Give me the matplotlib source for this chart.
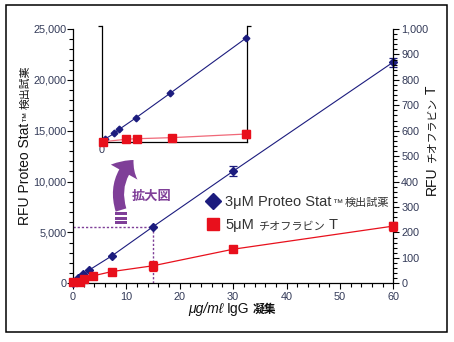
import matplotlib
matplotlib.use("Agg")
import matplotlib.pyplot as plt
from matplotlib.ticker import MultipleLocator, FuncFormatter
from matplotlib.transforms import IdentityTransform
from matplotlib.patches import Rectangle, FancyArrowPatch
from matplotlib.lines import Line2D

# ---------------- data ----------------
blue_x = [0, 0.9, 1.9, 3.05, 7.35, 15, 30, 60]
blue_y = [60, 490, 890, 1310, 2720, 5570, 11020, 21750]
blue_err = [0, 0, 0, 0, 0, 0, 480, 440]

red_x = [0, 1.25, 2.0, 3.7, 7.25, 15, 30, 60]
red_y = [4, 6, 16, 29, 46, 69, 134, 225]
red_err = [0, 0, 0, 0, 0, 20, 0, 18]

inset_blue_x = [0.34, 1.31, 1.82, 3.52, 7.07, 14.9]
inset_blue_y = [28, 77, 112, 209, 421, 894]
inset_red_x = [0.17, 2.5, 3.68, 7.24, 14.9]
inset_red_y = [5, 26, 31, 40, 71]
inset_red_err = [0, 0, 0, 0, 37]

legend_labels = [["3\u03bcM Proteo Stat", "\u2122", "検出試薬"],
                 ["5\u03bcM", "チオフラビン", "T"]]
left_label = ["RFU Proteo Stat", "\u2122", "検出試薬"]
right_label = ["RFU", "チオフラビン", "T"]
x_label = ["\u03bcg/m\u2113", "IgG", "凝集"]
zoom_text = "拡大図"

# ---------------- style ----------------
FAM = ["Liberation Sans", "DejaVu Sans", "Noto Sans CJK JP"]
JFAM = ["Noto Sans CJK JP", "DejaVu Sans"]
plt.rcParams["font.family"] = FAM
NAVY = "#1c1c7e"
RED = "#e8101c"
PURPLE = "#7f3f98"
TICKC = "#333a58"

W, H = 454, 342
fig = plt.figure(figsize=(W / 100, H / 100), dpi=100)

def fx(px):
    return px / W

def fy(py):
    return 1 - py / H

# main axes
ax = fig.add_axes([fx(73), fy(283.3), fx(393.3) - fx(73), fy(29) - fy(283.3)])
ax.set_facecolor("none")
ax2 = ax.twinx()
ax.set_xlim(0, 60)
ax.set_ylim(0, 25000)
ax2.set_ylim(0, 1000)
for s in ["top", "right"]:
    ax.spines[s].set_visible(False)
for s in ["top", "left", "bottom"]:
    ax2.spines[s].set_visible(False)
for a in (ax, ax2):
    for s in a.spines.values():
        s.set_linewidth(0.9)

ax.xaxis.set_major_locator(MultipleLocator(10))
ax.xaxis.set_minor_locator(MultipleLocator(2))
ax.yaxis.set_major_locator(MultipleLocator(5000))
ax.yaxis.set_minor_locator(MultipleLocator(1000))
ax2.yaxis.set_major_locator(MultipleLocator(100))
ax2.yaxis.set_minor_locator(MultipleLocator(20))
fmt = FuncFormatter(lambda v, p: f"{int(round(v)):,}")
ax.yaxis.set_major_formatter(fmt)
ax2.yaxis.set_major_formatter(fmt)

for a in (ax, ax2):
    a.tick_params(which="major", direction="out", length=4.2, width=0.8,
                  labelsize=7.8, labelcolor=TICKC, color="black")
    a.tick_params(which="minor", direction="out", length=2.6, width=0.8, color="black")
ax.tick_params(axis="y", pad=0.5)
ax.tick_params(axis="x", pad=2)
ax2.tick_params(axis="y", pad=1.5)

# dotted guide lines to the 15 ug/ml point
ax.plot([0, blue_x[5]], [blue_y[5], blue_y[5]], ls=(0, (1.6, 1.4)), color=PURPLE, lw=1.0, zorder=1)
ax.plot([blue_x[5], blue_x[5]], [0, blue_y[5]], ls=(0, (1.6, 1.4)), color=PURPLE, lw=1.0, zorder=1)

ax.errorbar(blue_x, blue_y, yerr=blue_err, color=NAVY, lw=0.8, marker="D", ms=3.6,
            capsize=2.6, elinewidth=0.9, capthick=0.9, zorder=3, clip_on=False)
ax2.errorbar(red_x, red_y, yerr=red_err, color=RED, lw=0.9, marker="s", ms=5.5,
             capsize=2.8, elinewidth=0.9, capthick=0.9, zorder=3, clip_on=False)

# inset
axi = fig.add_axes([fx(101.7), fy(142.3), fx(246.7) - fx(101.7), fy(26) - fy(142.3)])
axi.set_facecolor("none")
axi.set_xlim(0, 15)
axi.set_ylim(0, 1000)
axi.spines["top"].set_visible(False)
for s in axi.spines.values():
    s.set_linewidth(0.9)
axi.set_xticks([0])
axi.set_xticklabels(["0"])
axi.set_yticks([1000])
axi.set_yticklabels([])
axi.tick_params(axis="x", length=0, labelsize=7.8, labelcolor=TICKC, pad=2)
axi.tick_params(axis="y", left=True, right=True, direction="out", length=3, width=0.9)
axi.plot(inset_blue_x, inset_blue_y, color=NAVY, lw=0.8, marker="D", ms=3.4, clip_on=False, zorder=3)
axi.errorbar(inset_red_x, inset_red_y, yerr=inset_red_err, color="#f06878", lw=0.9,
             marker="s", ms=5.3, mfc=RED, mec=RED, ecolor=RED, capsize=2.8,
             elinewidth=0.9, capthick=0.9, clip_on=False, zorder=3)

# ---------------- text helpers ----------------
renderer = fig.canvas.get_renderer()

def seq(pieces, x, y, rot=0, center=False):
    """pieces: (text, kwargs, gap_before_in_px)"""
    texts = []
    for s, kw, g in pieces:
        t = fig.text(0, 0, s, transform=IdentityTransform(), rotation=rot,
                     rotation_mode="anchor", ha="left", va="baseline", **kw)
        texts.append(t)
    sizes = []
    for t in texts:
        bb = t.get_window_extent(renderer)
        sizes.append(bb.height if rot == 90 else bb.width)
    gaps = [p[2] for p in pieces]
    total = sum(sizes) + sum(gaps[1:])
    pos = (y if rot == 90 else x) - (total / 2 if center else 0)
    for i, (t, sz) in enumerate(zip(texts, sizes)):
        if i > 0:
            pos += gaps[i]
        if rot == 90:
            t.set_position((x, pos))
        else:
            t.set_position((pos, y))
        pos += sz

LAB = dict(fontsize=10, color="#111111", family=FAM)
JLAB = dict(fontsize=7.8, color="#111111", family=JFAM)
TM = dict(fontsize=7.5, color="#111111", family=FAM)

seq([(left_label[0], LAB, 0), (left_label[1], TM, 0.3), (left_label[2], JLAB, 3)],
    29, 197, rot=90, center=True)
seq([(right_label[0], LAB, 0), (right_label[1], JLAB, 3.5), (right_label[2], LAB, 3.5)],
    436, 202, rot=90, center=True)
seq([(x_label[0], dict(fontsize=10, color="#111111", family=FAM, style="italic"), 0),
     (x_label[1], LAB, 3),
     (x_label[2], dict(fontsize=8.5, color="#111111", family=JFAM, weight="bold"), 3.5)],
    232, 29, center=True)

LEG = dict(fontsize=10.5, color="#333333", family=FAM)
LEGJ = dict(fontsize=8, color="#333333", family=JFAM)
LEGTM = dict(fontsize=7.5, color="#333333", family=FAM)
seq([(legend_labels[0][0], LEG, 0), (legend_labels[0][1], LEGTM, 0.3), (legend_labels[0][2], LEGJ, 3)],
    225, 136)
seq([(legend_labels[1][0], LEG, 0), (legend_labels[1][1], LEGJ, 4), (legend_labels[1][2], LEG, 4)],
    225, 112.7)
fig.add_artist(Line2D([fx(213)], [fy(201)], marker="D", ms=8.5, color=NAVY, ls="none"))
fig.add_artist(Line2D([fx(213)], [fy(224)], marker="s", ms=8, color=RED, ls="none"))

# zoom arrow
arr = FancyArrowPatch((fx(121), fy(210)), (fx(133.5), fy(160)),
                      transform=fig.transFigure,
                      connectionstyle="arc3,rad=-0.3",
                      arrowstyle="simple,head_width=22,head_length=11,tail_width=8",
                      mutation_scale=1, color=PURPLE, lw=0, shrinkA=0, shrinkB=0)
fig.add_artist(arr)
for yy in [212, 216.8, 221.5]:
    fig.add_artist(Rectangle((fx(115.5), fy(yy + 2.7)), fx(126.5) - fx(115.5), fy(yy) - fy(yy + 2.7),
                             transform=fig.transFigure, color=PURPLE, lw=0))
fig.text(fx(152), fy(196), zoom_text, ha="center", va="center", fontsize=9.5,
         weight="bold", color=PURPLE, family=JFAM)

# border
fig.add_artist(Rectangle((fx(6.3), fy(332.3)), fx(446.7) - fx(6.3), fy(5.3) - fy(332.3),
                         transform=fig.transFigure, fill=False, ec="black", lw=1.1))

fig.savefig("out.png", dpi=100)
